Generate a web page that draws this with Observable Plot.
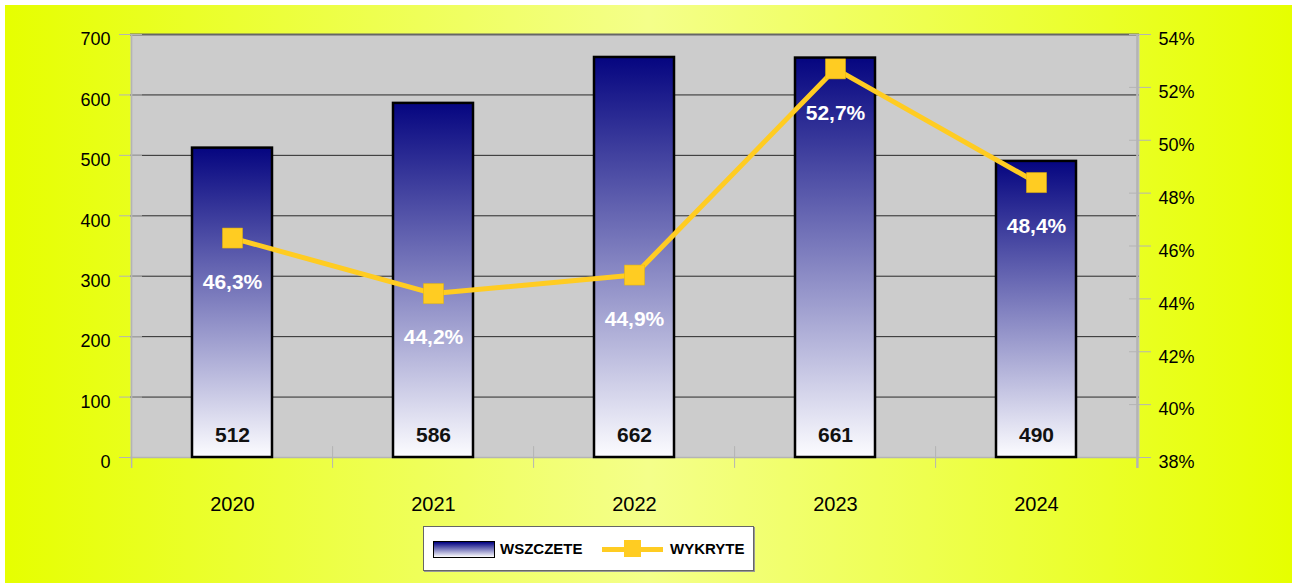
<!DOCTYPE html>
<html>
<head>
<meta charset="utf-8">
<script src="https://cdn.jsdelivr.net/npm/d3@7"></script>
<script src="https://cdn.jsdelivr.net/npm/@observablehq/plot@0.6"></script>
<style>
  html, body { margin: 0; padding: 0; background: #ffffff; }
  #wrap { position: relative; width: 1292px; height: 583px; overflow: hidden; font-family: "Liberation Sans", Arial, sans-serif; }
  #bg { position: absolute; left: 5px; top: 5px; width: 1287px; height: 578px;
        background: linear-gradient(to right, #e6ff00 0%, #f4ff8a 50%, #e6ff00 100%); }
  #chart { position: absolute; left: 0; top: 0; }
  #legend { position: absolute; left: 423px; top: 526px; width: 329px; height: 43px; background: #ffffff;
            border: 1px solid #666; box-shadow: 1px 1px 0 #999; }
  .sw-bar { position: absolute; left: 9px; top: 14px; width: 60px; height: 15px; border: 1px solid #000;
            background: linear-gradient(to bottom, #000080, #ffffff); }
  .sw-line { position: absolute; left: 178px; top: 20px; width: 61px; height: 5px; background: #ffcc22; }
  .sw-sq { position: absolute; left: 200px; top: 13px; width: 17px; height: 17px; background: #ffcc22; }
  .lab { position: absolute; top: 13px; font-size: 15px; font-weight: bold; color: #000; line-height: 18px; }
</style>
</head>
<body>
<div id="wrap">
  <div id="bg"></div>
  <svg width="0" height="0" style="position:absolute">
    <defs>
      <linearGradient id="barGrad" x1="0" y1="0" x2="0" y2="1">
        <stop offset="0" stop-color="#050580"></stop>
        <stop offset="1" stop-color="#fcfcff"></stop>
      </linearGradient>
    </defs>
  </svg>
  <div id="chart"></div>
  <div id="legend">
    <div class="sw-bar"></div>
    <div class="lab" id="lab1" style="left:76px"></div>
    <div class="sw-line"></div>
    <div class="sw-sq"></div>
    <div class="lab" id="lab2" style="left:246px"></div>
  </div>
</div>
<script>
// ---- data ----
const years = ["2020", "2021", "2022", "2023", "2024"];
const started = [512, 586, 662, 661, 490];        // WSZCZĘTE (left axis)
const detected = [46.3, 44.2, 44.9, 52.7, 48.4];  // WYKRYTE % (right axis)
const countTicks = [0, 100, 200, 300, 400, 500, 600, 700];
const pctTicks = [38, 40, 42, 44, 46, 48, 50, 52, 54];
const seriesNames = ["WSZCZETE", "WYKRYTE"];

// ---- layout ----
const W = 1292, H = 520, mL = 130, mR = 153, mT = 34, mB = 63;
const step = (W - mL - mR) / years.length;
const pctMin = 38, pctMax = 54, cntMax = 700;
const pctToY = p => (p - pctMin) / (pctMax - pctMin) * cntMax;
const yToPct = v => v / cntMax * (pctMax - pctMin) + pctMin;

const data = years.map((y, i) => ({year: y, started: started[i], detected: detected[i]}));
const axisGray = "#b4b4b4";

const chart = Plot.plot({
  width: W, height: H,
  marginLeft: mL, marginRight: mR, marginTop: mT, marginBottom: mB,
  style: {background: "transparent", fontFamily: "'Liberation Sans', Arial, sans-serif", color: "#000", overflow: "visible"},
  x: {domain: years, paddingInner: 0.6, paddingOuter: 0.3, axis: null, label: null},
  y: {domain: [0, cntMax], axis: null, label: null},
  marks: [
    Plot.frame({fill: "#cccccc", stroke: null}),
    Plot.ruleY(countTicks.filter(v => v > 0 && v < cntMax), {stroke: "#2a2a2a", strokeWidth: 1}),
    Plot.ruleY([cntMax], {stroke: "#666", strokeWidth: 2}),
    Plot.ruleY([0], {stroke: axisGray, strokeWidth: 1.5}),
    // left / right axis lines and category separators
    Plot.ruleX([years[0]], {dx: -step / 2, y1: -18, y2: cntMax, stroke: axisGray, strokeWidth: 1.5}),
    Plot.ruleX([years[years.length - 1]], {dx: step / 2, y1: -18, y2: cntMax, stroke: axisGray, strokeWidth: 2.5}),
    Plot.ruleX(years.slice(1), {dx: -step / 2, y1: -18, y2: 18, stroke: axisGray, strokeWidth: 1}),
    // axis ticks
    Plot.axisY(countTicks, {anchor: "left", label: null, tickSize: 23, dx: 12, tickFormat: () => "", stroke: axisGray}),
    Plot.axisY(pctTicks.map(pctToY), {anchor: "right", label: null, tickSize: 22, dx: -11, tickFormat: () => "", stroke: axisGray}),
    // axis labels
    Plot.axisY(countTicks, {anchor: "left", label: null, tickSize: 0, tickPadding: 20, fontSize: 18, dy: 5, fill: "#000"}),
    Plot.axisY(pctTicks.map(pctToY), {anchor: "right", label: null, tickSize: 0, tickPadding: 19, fontSize: 18, dy: 5, fill: "#000",
      tickFormat: v => Math.round(yToPct(v)) + "%"}),
    Plot.axisX(years, {anchor: "bottom", label: null, tickSize: 0, tickPadding: 39, fontSize: 20, fill: "#000"}),
    // bars
    Plot.barY(data, {x: "year", y: "started", fill: "url(#barGrad)", stroke: "#000", strokeWidth: 2.5}),
    Plot.text(data, {x: "year", y: 0, text: d => String(d.started), dy: -22, fontSize: 21, fontWeight: "bold", fill: "#111"}),
    // line
    Plot.line(data, {x: "year", y: d => pctToY(d.detected), stroke: "#ffcc22", strokeWidth: 5}),
    Plot.dot(data, {x: "year", y: d => pctToY(d.detected), symbol: "square", r: 11.3, fill: "#ffcc22", stroke: "#e8b800", strokeWidth: 0.5}),
    Plot.text(data, {x: "year", y: d => pctToY(d.detected), text: d => d.detected.toFixed(1).replace(".", ",") + "%",
      dy: 44, fontSize: 21, fontWeight: "bold", fill: "#ffffff"})
  ]
});
document.getElementById("chart").appendChild(chart);
document.getElementById("lab1").textContent = seriesNames[0];
document.getElementById("lab2").textContent = seriesNames[1];
</script>
</body>
</html>
